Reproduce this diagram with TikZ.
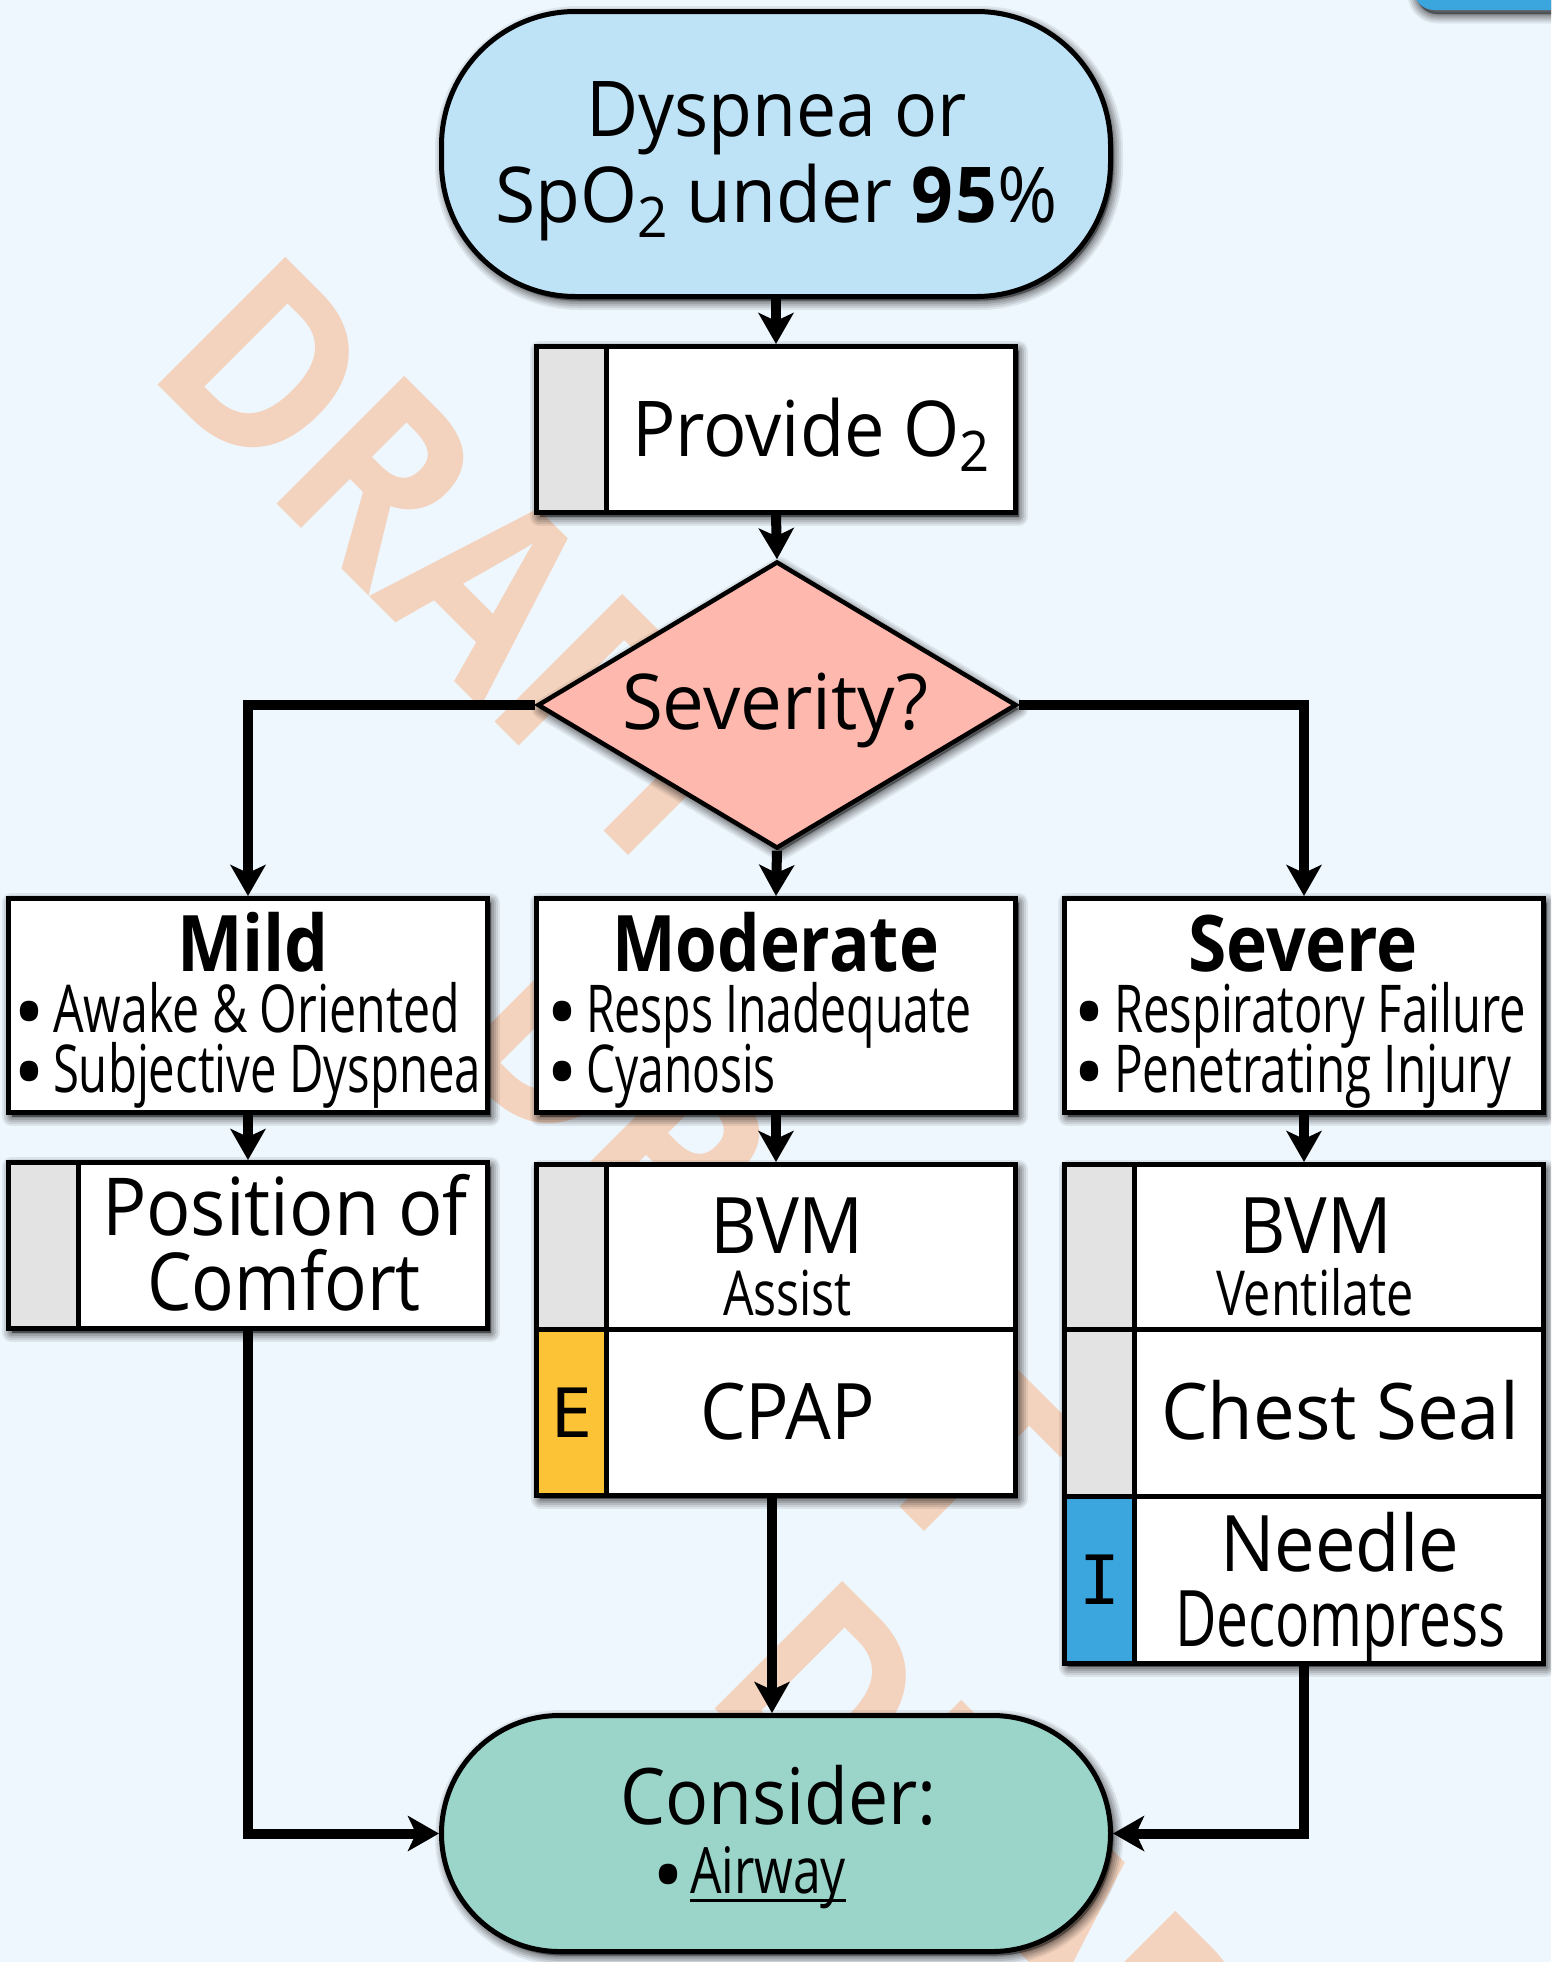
\documentclass[tikz,border=0pt]{standalone}
\usepackage{fontspec}
\usepackage{graphicx}
\setmainfont{Open Sans}
\newfontfamily\monof{DejaVu Sans Mono}
\usetikzlibrary{arrows.meta,shapes.geometric,calc}
\definecolor{pagebg}{HTML}{EEF7FE}
\definecolor{wmark}{HTML}{F3D2BE}
\definecolor{startc}{HTML}{BFE3F6}
\definecolor{decc}{HTML}{FFB8AE}
\definecolor{endc}{HTML}{9BD5CA}
\definecolor{stripg}{HTML}{E3E3E3}
\definecolor{stripe}{HTML}{FCC336}
\definecolor{stripi}{HTML}{3BA5DE}
\tikzset{
  softshadow/.style={
    preaction={draw=black,fill=black,opacity=.07,line width=19pt,line join=round,transform canvas={shift={(3pt,-4pt)}}},
    preaction={draw=black,fill=black,opacity=.09,line width=15pt,line join=round,transform canvas={shift={(3pt,-4pt)}}},
    preaction={draw=black,fill=black,opacity=.10,line width=11pt,line join=round,transform canvas={shift={(3pt,-4pt)}}},
    preaction={draw=black,fill=black,opacity=.12,line width=7pt,line join=round,transform canvas={shift={(3pt,-4pt)}}},
    preaction={draw=black,fill=black,opacity=.14,line width=3pt,line join=round,transform canvas={shift={(3pt,-4pt)}}}},
  bordered/.style={draw=black,line width=5pt,inner sep=0pt,outer sep=.5\pgflinewidth},
  wbox/.style={bordered,rectangle,fill=white},
  stackrow/.style={bordered,rectangle,fill=white},
  grayst/.style={bordered,rectangle,fill=stripg},
  yellowst/.style={bordered,rectangle,fill=stripe,font=\monof\fontsize{68}{68}\selectfont},
  bluest/.style={bordered,rectangle,fill=stripi,font=\monof\fontsize{68}{68}\selectfont},
  startbox/.style={bordered,rectangle,fill=startc,rounded corners=134pt},
  endbox/.style={bordered,rectangle,fill=endc,rounded corners=118pt},
  decbox/.style={bordered,diamond,fill=decc,aspect=1.668,line width=4.5pt},
  flow/.style={draw=black,line width=10pt,-{Stealth[length=31pt,width=35pt,inset=8pt]}},
  txt/.style={anchor=base west,inner sep=0pt,outer sep=0pt},
  bul/.style={anchor=base,inner sep=0pt,outer sep=0pt},
  wm/.style={anchor=base west,inner sep=0pt,outer sep=0pt,rotate=-45,text=wmark,font=\bfseries\fontsize{253}{253}\selectfont},
}
\newcommand{\fitw}[2]{\setbox0\hbox{#2}\pgfmathsetmacro\fx{#1/\the\wd0}\scalebox{\fx}[1]{\box0}}
% \tx{name}{x}{baseline y}{width}{font size}{text}
\newcommand{\tx}[6]{\pgfmathsetmacro\tw{#4+3}\pgfmathsetmacro\tpx{#2-2}\node[txt] (#1) at (\tpx,#3) {\fitw{\tw}{\fontsize{#5}{#5}\selectfont #6}};}
\newcommand{\bl}[3]{\node[bul] (#1) at (#2,#3) {\raisebox{-10pt}{\fontsize{85}{85}\selectfont •}};}
% \bx{style}{name}{x0}{y0}{x1}{y1}{text}
\newcommand{\bx}[7]{%
  \pgfmathsetmacro\bw{#5-#3-3}\pgfmathsetmacro\bh{#6-#4-3}%
  \pgfmathsetmacro\bcx{(#3+#5)/2}\pgfmathsetmacro\bcy{(#4+#6)/2}%
  \node[#1,minimum width=\bw pt,minimum height=\bh pt] (#2) at (\bcx,\bcy) {#7};}
\newcommand{\subtwo}{\raisebox{-15pt}{\fontsize{56}{56}\selectfont 2}}
\newcommand{\ulword}[1]{\setbox1\hbox{#1}\rlap{\rule[-9pt]{\wd1}{3.5pt}}\box1}
\begin{document}
\begin{tikzpicture}[x=1pt,y=-1pt]
\clip (0,0) rectangle (1551,1962);
\fill[pagebg] (0,0) rectangle (1551,1962);
% watermarks
\node[wm] (wmA) at (143,370) {\fitw{735}{DRAFT}};
\node[wm] (wmB) at (439,1046) {\fitw{735}{DRAFT}};
\node[wm] (wmC) at (700,1694) {\fitw{735}{DRAFT}};
\node[wm] (wmD) at (1033,2024) {\fitw{735}{DRAFT}};
% corner tab
\path[softshadow,fill=stripi,rounded corners=20pt] (1414,-60) rectangle (1620,10);
% start
\bx{startbox,softshadow}{start}{440}{10}{1112}{298}{}
% provide
\bx{wbox,softshadow}{prov}{535}{345}{1017}{514}{}
\bx{grayst}{provs}{535}{345}{608}{514}{}
% decision
\node[decbox,softshadow,minimum width=479pt,minimum height=287pt] (dec) at (777,705) {};
% class boxes
\bx{wbox,softshadow}{mild}{7}{897}{489}{1114}{}
\bx{wbox,softshadow}{mod}{535}{897}{1017}{1114}{}
\bx{wbox,softshadow}{sev}{1063}{897}{1545}{1114}{}
% mild action
\bx{wbox,softshadow}{pos}{7}{1161}{489}{1330}{}
\bx{grayst}{poss}{7}{1161}{80}{1330}{}
% moderate stack
\path[softshadow] (537,1165) rectangle (1015,1495);
\bx{stackrow}{bvma}{535}{1163}{1017}{1332}{}
\bx{grayst}{bvmas}{535}{1163}{608}{1332}{}
\bx{stackrow}{cpap}{535}{1328}{1017}{1497}{}
\bx{yellowst}{cpaps}{535}{1328}{608}{1497}{E}
% severe stack
\path[softshadow] (1065,1165) rectangle (1543,1663);
\bx{stackrow}{bvmv}{1063}{1163}{1545}{1332}{}
\bx{grayst}{bvmvs}{1063}{1163}{1136}{1332}{}
\bx{stackrow}{seal}{1063}{1328}{1545}{1499}{}
\bx{grayst}{seals}{1063}{1328}{1136}{1499}{}
\bx{stackrow}{needle}{1063}{1495}{1545}{1665}{}
\bx{bluest}{needles}{1063}{1495}{1136}{1665}{I}
% end
\bx{endbox,softshadow}{cons}{440}{1714}{1112}{1953}{}
% connectors
\coordinate (cpapout) at (772,1497);
\draw[flow] (start.south) -- (prov.north);
\draw[flow] (prov.south) -- (dec.north);
\draw[flow] (dec.south) -- (mod.north);
\draw[flow] (dec.west) -| (mild.north);
\draw[flow] (dec.east) -| (sev.north);
\draw[flow] (mild.south) -- (pos.north);
\draw[flow] (mod.south) -- (bvma.north);
\draw[flow] (sev.south) -- (bvmv.north);
\draw[flow] (pos.south) |- (cons.west);
\draw[flow] (cpapout) -- (cpapout |- cons.north);
\draw[flow] (needle.south) |- (cons.east);
% text
\tx{t1}{588}{136}{378}{77}{Dyspnea or}
\tx{t2}{497}{222}{560}{77}{SpO\subtwo{} under \textbf{9\kern3pt 5}\%}
\tx{t3}{634}{456}{355}{77}{Provide O\subtwo}
\tx{t4}{624}{729}{304}{77}{Severity?}
\tx{t5}{179}{971}{149}{78}{\textbf{Mild}}
\bl{b1}{29}{1032}
\tx{t6}{55}{1032}{404}{66}{Awake \& Oriented}
\bl{b2}{29}{1092}
\tx{t7}{55}{1092}{425}{66}{Subjective Dyspnea}
\tx{t8}{614}{971}{324}{78}{\textbf{Moderate}}
\bl{b3}{562}{1032}
\tx{t9}{588}{1032}{383}{66}{Resps Inadequate}
\bl{b4}{562}{1092}
\tx{t10}{588}{1092}{187}{66}{Cyanosis}
\tx{t11}{1190}{971}{227}{78}{\textbf{Severe}}
\bl{b5}{1089}{1032}
\tx{t12}{1116}{1032}{409}{66}{Respiratory Failure}
\bl{b6}{1089}{1092}
\tx{t13}{1116}{1092}{394}{66}{Penetrating Injury}
\tx{t14}{104}{1235}{363}{80}{Position of}
\tx{t15}{149}{1310}{271}{80}{Comfort}
\tx{t16}{712}{1253}{151}{78}{BVM}
\tx{t17}{725}{1315}{126}{62}{Assist}
\tx{t18}{702}{1439}{172}{78}{CPAP}
\tx{t19}{1241}{1253}{150}{78}{BVM}
\tx{t20}{1218}{1315}{195}{62}{Ventilate}
\tx{t21}{1163}{1439}{355}{78}{Chest Seal}
\tx{t22}{1222}{1571}{236}{78}{Needle}
\tx{t23}{1177}{1646}{328}{78}{Decompress}
\tx{t24}{622}{1824}{314}{78}{Consider:}
\bl{b7}{668}{1895}
\tx{t25}{692}{1893}{153}{64}{\ulword{Airway}}
\end{tikzpicture}
\end{document}
